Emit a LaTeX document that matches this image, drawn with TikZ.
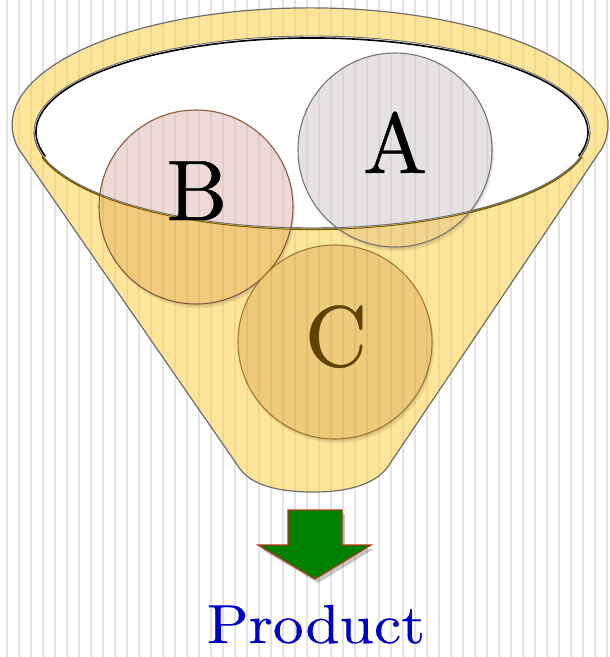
\documentclass[tikz,border=0pt]{standalone}
\usepackage{fontspec}
\newfontfamily\lmletter{lmroman10-regular.otf}[FakeBold=0.5]
\newfontfamily\lmprod{lmroman10-regular.otf}[FakeBold=0.15]
\definecolor{bgstripe}{HTML}{E4E4E4}
\definecolor{funnel}{HTML}{FEE59A}
\definecolor{funnelline}{HTML}{6E6E6E}
\definecolor{Bin}{HTML}{EED9D6}
\definecolor{Bout}{HTML}{F1CA7C}
\definecolor{Bline}{HTML}{8A5A3E}
\definecolor{Ain}{HTML}{E6E1E2}
\definecolor{Aout}{HTML}{F2D38C}
\definecolor{Aline}{HTML}{7C7474}
\definecolor{Cfill}{HTML}{EECB7B}
\definecolor{Cline}{HTML}{A67830}
\definecolor{Ctext}{HTML}{5E4400}
\definecolor{rimdark}{HTML}{7A5C00}
\definecolor{arrowgreen}{HTML}{008000}
\definecolor{arrowline}{HTML}{B03A10}
\definecolor{prod}{HTML}{0000C8}
\def\funnelpath{(238,466) -- (18,148) arc[start angle=168.6,end angle=371.4,x radius=298,y radius=117] -- (391,462) .. controls (379,483) and (352,492) .. (313,492) .. controls (275,492) and (249,484) .. cycle}
\def\innerell{(312,132) ellipse [x radius=278, y radius=96]}
\def\circA{(395,150) circle [radius=97]}
\def\circB{(196,207) circle [radius=97]}
\def\circC{(335,342) circle [radius=97]}
\def\arrowpath{(288,510) -- (342,510) -- (342,545) -- (371,545) -- (315,579) -- (258,545) -- (288,545) -- cycle}
\tikzset{
  stripe/.style={bgstripe, line width=1.3},
  overstripe/.style={black, opacity=0.055, line width=1.3},
  letter/.style={anchor=base, font=\lmletter\fontsize{86}{86}\selectfont},
  circshadow/.style={black, opacity=0.08},
}
\begin{document}
\begin{tikzpicture}[x=1pt,y=1pt,yscale=-1]
\useasboundingbox (0,0) rectangle (610,657);
\fill[white] (0,0) rectangle (610,657);
\foreach \x in {7,19,...,607} \draw[stripe] (\x,0) -- (\x,657);
% funnel
\filldraw[fill=funnel, draw=funnelline, line width=1.2] \funnelpath;
% opening
\fill[white] \innerell;
\draw[rimdark, line width=1.3] (582.0,157.2) arc[start angle=15,end angle=165,x radius=279.5,y radius=97.5];
\draw[black, line width=1.6] (45.4,156.3) arc[start angle=165,end angle=375,x radius=276,y radius=94];
\draw[funnelline, line width=0.9] \innerell;
% circle shadows
\begin{scope}[shift={(2,4)}]
  \fill[circshadow] \circA;
  \fill[circshadow] \circB;
  \fill[circshadow] \circC;
\end{scope}
\begin{scope}[shift={(1,2)}]
  \fill[circshadow] \circA;
  \fill[circshadow] \circB;
  \fill[circshadow] \circC;
\end{scope}
% circles
\fill[Aout] \circA;
\fill[Bout] \circB;
\fill[Cfill] \circC;
\begin{scope}
  \clip \innerell;
  \fill[Ain] \circA;
  \fill[Bin] \circB;
\end{scope}
\draw[rimdark, line width=1.0] (582.0,157.2) arc[start angle=15,end angle=165,x radius=279.5,y radius=97.5];
\draw[funnelline, line width=0.9] (590,132) arc[start angle=0,end angle=180,x radius=278,y radius=96];
\draw[Aline, line width=1.1] \circA;
\draw[Bline, line width=1.1] \circB;
\draw[Cline, line width=1.1] \circC;
% stripes seen through the funnel and circles
\begin{scope}[even odd rule]
  \clip \funnelpath \innerell;
  \foreach \x in {7,19,...,607} \draw[overstripe] (\x,0) -- (\x,657);
\end{scope}
\begin{scope}
  \clip \innerell;
  \clip \circA \circB;
  \foreach \x in {7,19,...,607} \draw[overstripe] (\x,0) -- (\x,657);
\end{scope}
% letters
\node[letter, text=black] (A) at (395,173) {A};
\node[letter, text=black] (B) at (197,220) {B};
\node[letter, text=Ctext] (C) at (336,366) {C};
% arrow
\begin{scope}[shift={(3,4)}]
  \fill[black, opacity=0.22] \arrowpath;
\end{scope}
\filldraw[fill=arrowgreen, draw=arrowline, line width=1.2] \arrowpath;
\node[anchor=base, text=prod, font=\lmprod\fontsize{55}{55}\selectfont] (product) at (316,643) {\scalebox{1.12}[1]{Product}};
\end{tikzpicture}
\end{document}
